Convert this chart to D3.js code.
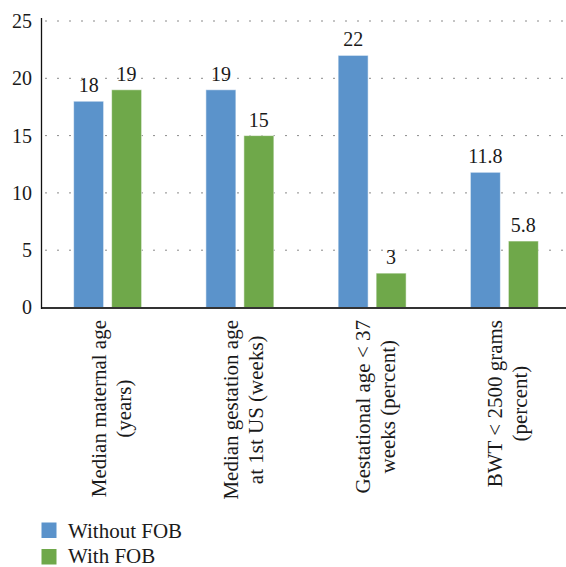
<!DOCTYPE html>
<html>
<head>
<meta charset="utf-8">
<script src="https://cdn.jsdelivr.net/npm/d3@7"></script>
<style>
  body { margin: 0; background: #fff; }
  svg text { font-family: "Liberation Serif", "Times New Roman", serif; fill: #1a1a1a; }
</style>
</head>
<body>
<script>
// categories (two lines each, as in the figure)
var categories = ["maternal", "gestationUS", "gestational37", "bwt"];
var categoryLines = [
    ["Median maternal age", "(years)"],
    ["Median gestation age", "at 1st US (weeks)"],
    ["Gestational age < 37", "weeks (percent)"],
    ["BWT < 2500 grams", "(percent)"]
];
var seriesNames = ["Without FOB", "With FOB"];
var withoutFOB = [18, 19, 22, 11.8];
var withFOB = [19, 15, 3, 5.8];
var valueLabels = [["18", "19"], ["19", "15"], ["22", "3"], ["11.8", "5.8"]];
var yTicks = [0, 5, 10, 15, 20, 25];
var colors = ["#5b93cb", "#6fa84a"];

var width = 566, height = 567;
var svg = d3.select("body").append("svg")
    .attr("width", width)
    .attr("height", height);

var x = d3.scaleBand().domain(categories).range([41.5, 570.5]).paddingInner(0).paddingOuter(0);
var xSub = d3.scaleBand().domain(seriesNames).range([-34, 34]).paddingInner(0.2105).paddingOuter(0);
var y = d3.scaleLinear().domain([0, 25]).range([307.5, 21]);

// dotted gridlines
svg.append("g").selectAll("line")
    .data(yTicks.slice(1))
    .enter().append("line")
    .attr("x1", 45).attr("x2", width)
    .attr("y1", function(d) { return y(d); })
    .attr("y2", function(d) { return y(d); })
    .attr("stroke", "#8a8a8a")
    .attr("stroke-width", 1)
    .attr("stroke-dasharray", "2,10");

// y tick labels via axis, without the domain path and tick lines
var yAxis = svg.append("g")
    .attr("transform", "translate(42,0)")
    .call(d3.axisLeft(y).tickValues(yTicks).tickSize(0).tickPadding(10));
yAxis.select(".domain").remove();
yAxis.selectAll("text")
    .attr("font-size", 20)
    .attr("font-family", "Liberation Serif")
    .attr("fill", "#1a1a1a");

// bars
for (var i = 0; i < categories.length; i++) {
    var vals = [withoutFOB[i], withFOB[i]];
    var g = svg.append("g")
        .attr("transform", "translate(" + (x(categories[i]) + x.bandwidth() / 2) + ",0)");
    g.selectAll("rect")
        .data(vals)
        .enter().append("rect")
        .attr("x", function(d, j) { return xSub(seriesNames[j]); })
        .attr("y", function(d) { return y(d); })
        .attr("width", xSub.bandwidth())
        .attr("height", function(d) { return y(0) - y(d); })
        .attr("fill", function(d, j) { return colors[j]; })
        .attr("stroke", "rgba(255,255,255,0.55)")
        .attr("stroke-width", 1);
    g.selectAll("text.val")
        .data(vals)
        .enter().append("text")
        .attr("class", "val")
        .attr("x", function(d, j) { return xSub(seriesNames[j]) + xSub.bandwidth() / 2; })
        .attr("y", function(d) { return y(d) - 9; })
        .attr("text-anchor", "middle")
        .attr("font-size", 20)
        .text(function(d, j) { return valueLabels[i][j]; });
}

// axis lines
svg.append("line")
    .attr("x1", 42).attr("x2", width)
    .attr("y1", y(0) + 0.5).attr("y2", y(0) + 0.5)
    .attr("stroke", "#333").attr("stroke-width", 2);
svg.append("line")
    .attr("x1", 41.5).attr("x2", 41.5)
    .attr("y1", 18).attr("y2", y(0) + 1.5)
    .attr("stroke", "#111").attr("stroke-width", 1.3);

// rotated category labels
for (var i = 0; i < categories.length; i++) {
    var cx = x(categories[i]) + x.bandwidth() / 2;
    var lg = svg.append("g")
        .attr("transform", "translate(" + cx + ",320) rotate(-90)");
    var texts = lg.selectAll("text")
        .data(categoryLines[i])
        .enter().append("text")
        .attr("y", function(d, k) { return k == 0 ? -2 : 23; })
        .attr("text-anchor", "middle")
        .attr("font-size", 21)
        .text(function(d) { return d; });
    var maxW = 0;
    texts.each(function() { maxW = Math.max(maxW, this.getComputedTextLength()); });
    texts.attr("x", -maxW / 2);
}

// legend
var legend = svg.append("g");
for (var j = 0; j < seriesNames.length; j++) {
    legend.append("rect")
        .attr("x", 41.5).attr("y", 522.5 + j * 26.5)
        .attr("width", 15).attr("height", 15.5)
        .attr("fill", colors[j]);
    legend.append("text")
        .attr("x", 68).attr("y", 537.5 + j * 25)
        .attr("font-size", 21)
        .text(seriesNames[j]);
}
</script>
</body>
</html>
